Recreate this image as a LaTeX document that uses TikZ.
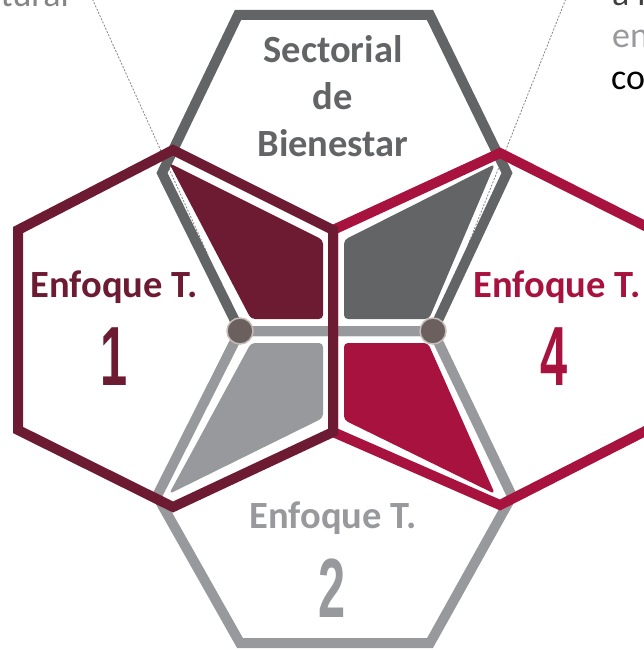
\documentclass[tikz,border=0pt]{standalone}
\usepackage{fontspec}
\setmainfont{Carlito}
\newfontfamily\digitfont{Liberation Sans}

\definecolor{enfMaroon}{HTML}{6D1B33}
\definecolor{enfCrimson}{HTML}{A8123E}
\definecolor{secGray}{HTML}{636466}
\definecolor{enfGray}{HTML}{98999C}
\definecolor{jointFill}{HTML}{6B605D}
\definecolor{jointRing}{HTML}{C4BDBA}
\definecolor{leadGray}{HTML}{858585}

\begin{document}
\begin{tikzpicture}[%
    x=1pt, y=-1pt,              % one unit per pixel, y going down
    line join=miter,            % sharp hexagon corners
    ]
% -------------------------------------------------
% Styles for strokes, panels and labels
\tikzset{
  hexline/.style={draw, line width=10pt},
  panel/.style={rounded corners=4pt},
  joint/.style={circle, fill=jointFill, draw=jointRing, line width=1.5pt,
                minimum size=26pt, inner sep=0pt},
  lead/.style={draw=leadGray, line width=0.8pt, dash pattern=on 2pt off 1.5pt},
  lbl/.style={font=\fontsize{38.5}{46}\selectfont\bfseries, anchor=base, inner sep=0pt},
  num/.style={font=\digitfont\bfseries\fontsize{84}{84}\selectfont, anchor=base, inner sep=0pt},
  side/.style={font=\fontsize{36}{42}\selectfont, inner sep=0pt}
}
\useasboundingbox (0,0) rectangle (644,650);
\clip (0,0) rectangle (644,650);
% -------------------------------------------------
% Hexagon corners
\coordinate (sA) at (238,15);  \coordinate (sB) at (430,15);
\coordinate (sC) at (507,173); \coordinate (sD) at (433,331);
\coordinate (sE) at (240,331); \coordinate (sF) at (162,173);
\coordinate (bC) at (512,496); \coordinate (bD) at (430,643);
\coordinate (bE) at (240,643); \coordinate (bF) at (157,496);
\coordinate (lA) at (173,150); \coordinate (lB) at (333,230);
\coordinate (lC) at (333,432); \coordinate (lD) at (173,507);
\coordinate (lE) at (18,430);  \coordinate (lF) at (18,230);
\coordinate (rA) at (500,153); \coordinate (rB) at (667,237);
\coordinate (rC) at (667,420); \coordinate (rD) at (500,505);

% leader lines to the side texts (under everything)
\coordinate (leadL) at (208,255);
\coordinate (leadR) at (468,245);
\draw[lead] (91,-4) -- (leadL);
\draw[lead] (567,-4) -- (leadR);

% outlines
\draw[hexline, secGray] (sA) -- (sB) -- (sC) -- (sD) -- (sE) -- (sF) -- cycle;
\draw[hexline, enfGray] (sE) -- (sD) -- (bC) -- (bD) -- (bE) -- (bF) -- cycle;
\draw[hexline, enfCrimson] (rA) -- (rB) -- (rC) -- (rD) -- (lC) -- (lB) -- cycle;
\draw[hexline, enfMaroon] (lA) -- (lB) -- (lC) -- (lD) -- (lE) -- (lF) -- cycle;

% inner panels
\fill[panel, enfMaroon]  (169,163) -- (323,240) -- (323,319) -- (251,319) -- cycle;
\fill[panel, secGray]    (344,240) -- (495,164) -- (429,319) -- (344,319) -- cycle;
\fill[panel, enfGray]    (251,343) -- (323,343) -- (323,418) -- (169,494) -- cycle;
\fill[panel, enfCrimson] (344,343) -- (428,343) -- (495,494) -- (344,420) -- cycle;

% joints
\node[joint] (jL) at (sE) {};
\node[joint] (jR) at (sD) {};

% -------------------------------------------------
% Labels
\node[lbl, text=secGray] (sec1) at (333,63)  {Sectorial};
\node[lbl, text=secGray] (sec2) at (333,110) {de};
\node[lbl, text=secGray] (sec3) at (333,157) {Bienestar};

\node[lbl, text=enfMaroon]  (t1) at (114,297) {Enfoque T.};
\node[num, text=enfMaroon]  (n1) at (114,385) {\scalebox{0.58}[1]{1}};
\node[lbl, text=enfCrimson] (t4) at (557,297) {Enfoque T.};
\node[num, text=enfCrimson] (n4) at (554,385) {\scalebox{0.58}[1]{4}};
\node[lbl, text=enfGray]    (t2) at (333,528) {Enfoque T.};
\node[num, text=enfGray]    (n2) at (332,617) {\scalebox{0.58}[1]{2}};

% cut-off side texts
\node[side, anchor=base east, text=leadGray] (sideL) at (69,7) {tural};
\node[side, anchor=base west, text=black!75] (sideR1) at (612,6)  {a r};
\node[side, anchor=base west, text=enfGray]  (sideR2) at (612,48) {en};
\node[side, anchor=base west, text=black]    (sideR3) at (611,90) {co};
% -------------------------------------------------
\end{tikzpicture}
\end{document}
